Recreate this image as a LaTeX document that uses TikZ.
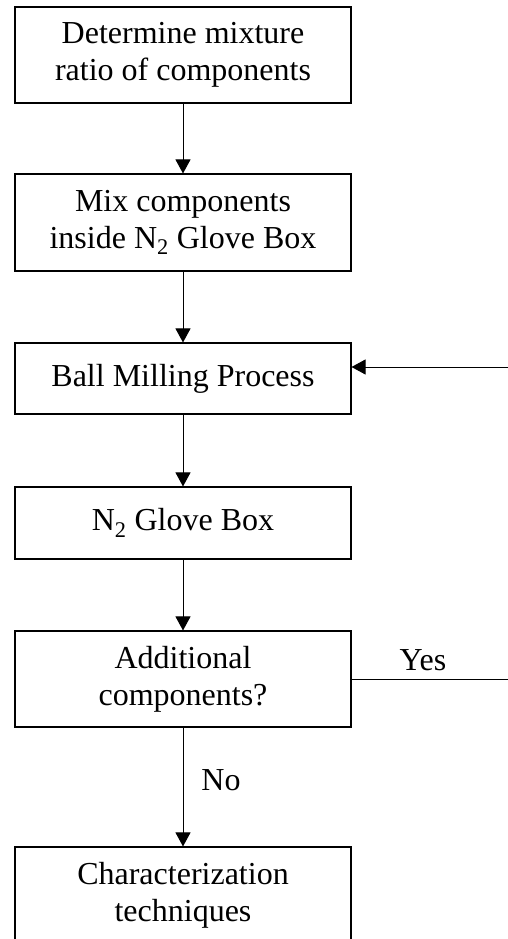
\documentclass[tikz,border=0pt]{standalone}
\usepackage{fontspec}
\setmainfont{Liberation Serif}
\usetikzlibrary{arrows.meta}
\tikzset{
	stepbox/.style={draw, line width=1.1pt, minimum width=336pt, inner sep=0pt, align=center},
	flow/.style={line width=1pt, -{Triangle[length=14pt,width=15pt]}}
}

\begin{document}
\begin{tikzpicture}[x=1pt,y=-1pt,font=\fontsize{32pt}{36.8pt}\selectfont]
	\useasboundingbox (0,0) rectangle (508,939);
	\clip (0,0) rectangle (508,939);

	\node[stepbox, minimum height=96pt] (ratio) at (183,55) {Determine mixture\\ratio of components};
	\node[stepbox, minimum height=97pt] (mix) at (183,222.5) {Mix components\\inside N\textsubscript{2} Glove Box};
	\node[stepbox, minimum height=71pt] (mill) at (183,378.5) {Ball Milling Process};
	\node[stepbox, minimum height=72pt] (glove) at (183,523) {N\textsubscript{2} Glove Box};
	\node[stepbox, minimum height=96pt] (more) at (183,679) {Additional\\components?};
	\node[stepbox, minimum height=96pt] (char) at (183,895) {Characterization\\techniques};

	\coordinate (loop) at (508,367);
	\coordinate (yesend) at (508,679);

	\draw[flow] (ratio) -- (mix);
	\draw[flow] (mix) -- (mill);
	\draw[flow] (mill) -- (glove);
	\draw[flow] (glove) -- (more);
	\draw[flow] (more) -- (char);
	\draw[line width=1pt] (more.east) -- (yesend);
	\draw[flow] (loop) -- (loop -| mill.east);

	\node[anchor=base] at (423,670) {Yes};
	\node[anchor=base] at (221,790) {No};
\end{tikzpicture}
\end{document}
